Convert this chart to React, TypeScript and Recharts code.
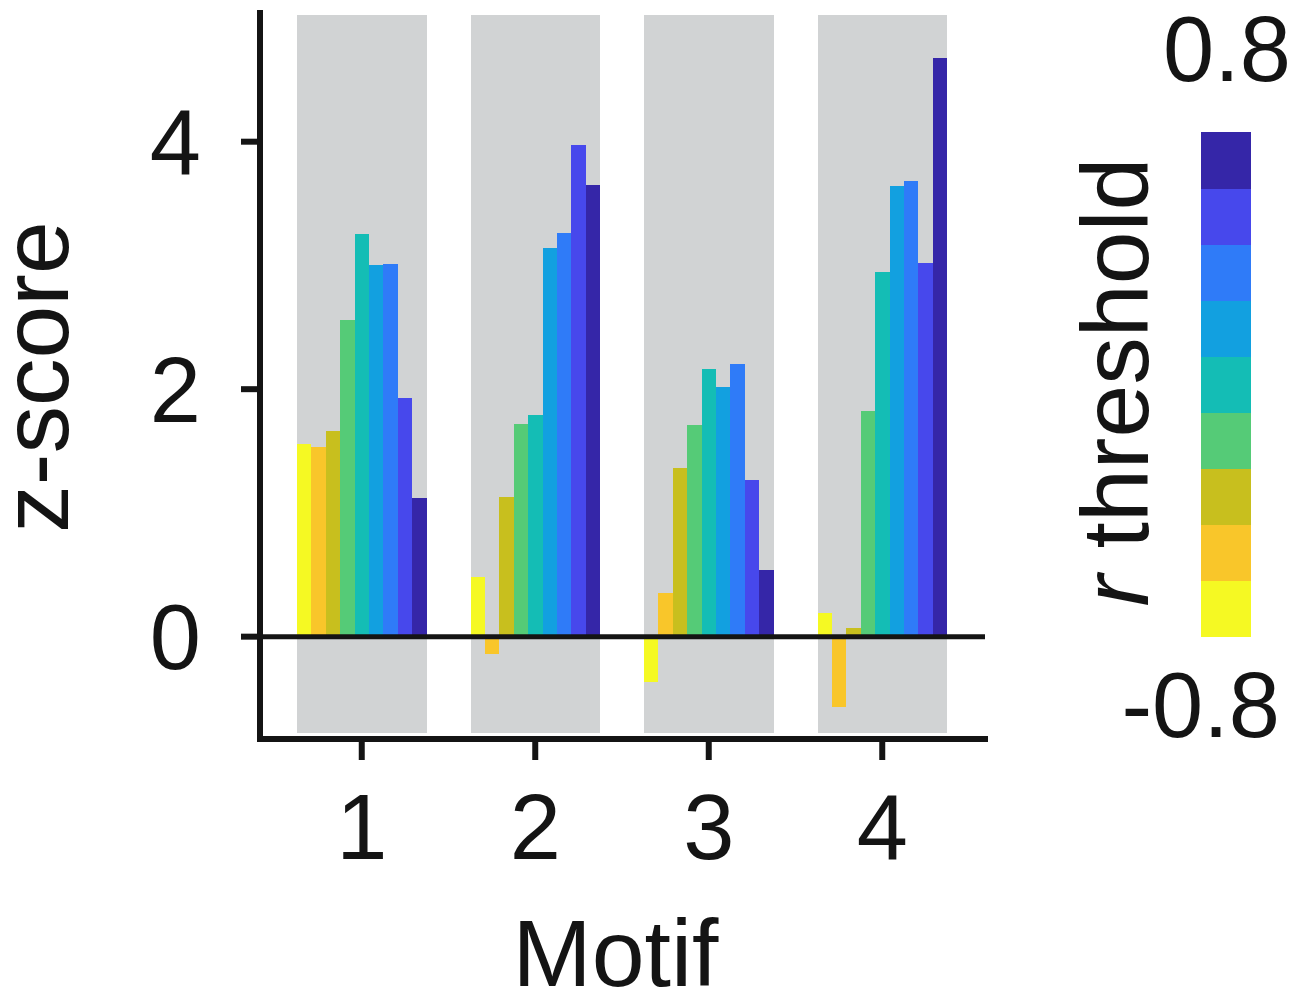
import React from "react";
import { BarChart, Bar, XAxis, YAxis, ReferenceLine, Legend, Label } from "recharts";

// Motif categories on the x axis
const motifs = ["1", "2", "3", "4"];

// r thresholds (colour bar levels, bottom to top) and their colours
const thresholds = [-0.8, -0.6, -0.4, -0.2, 0, 0.2, 0.4, 0.6, 0.8];
const thresholdColors = [
  "#F5F923",
  "#F9C62A",
  "#C8BF1E",
  "#55CB77",
  "#14BDB5",
  "#12A0E0",
  "#2F7BF8",
  "#4748EC",
  "#3526A8",
];

// z-score for motifs 1..4 at each r threshold
const zRm08 = [1.56, 0.48, -0.37, 0.19];
const zRm06 = [1.53, -0.14, 0.35, -0.57];
const zRm04 = [1.66, 1.13, 1.36, 0.07];
const zRm02 = [2.56, 1.72, 1.71, 1.82];
const zR00 = [3.25, 1.79, 2.16, 2.95];
const zR02 = [3.0, 3.14, 2.02, 3.64];
const zR04 = [3.01, 3.26, 2.2, 3.68];
const zR06 = [1.93, 3.97, 1.27, 3.02];
const zR08 = [1.12, 3.65, 0.54, 4.68];
const zScores = [zRm08, zRm06, zRm04, zRm02, zR00, zR02, zR04, zR06, zR08];

const yTicks = [0, 2, 4];

const Y_MIN = -0.827;
const Y_MAX = 5.04;
const BAND_TOP = 5.02;
const BAND_BOTTOM = -0.78;

const INK = "#141414";
const BAND = "#D1D3D4";
const FONT = "'Liberation Sans', Arial, Helvetica, sans-serif";

const data = motifs.map((m, i) => {
  const row: Record<string, string | number> = { motif: m };
  thresholds.forEach((_, j) => {
    row[`r${j}`] = zScores[j][i];
  });
  return row;
});

// grey band behind each motif group, built from each bar's own slot
function bandShape(p: any) {
  const span = Y_MAX - Y_MIN;
  const top = p.y + ((Y_MAX - BAND_TOP) / span) * p.height;
  const bottom = p.y + ((Y_MAX - BAND_BOTTOM) / span) * p.height;
  return (
    <rect
      x={p.x}
      y={top}
      width={p.width}
      height={bottom - top}
      fill={BAND}
      shapeRendering="crispEdges"
    />
  );
}

function barShape(p: any) {
  const y = Math.min(p.y, p.y + p.height);
  const h = Math.abs(p.height);
  return (
    <rect x={p.x} y={y} width={p.width} height={h} fill={p.fill} shapeRendering="crispEdges" />
  );
}

function ColorBar() {
  const n = thresholdColors.length;
  const segH = 504.4 / n;
  return (
    <svg width={228} height={760} style={{ display: "block", overflow: "visible" }}>
      {thresholdColors.map((c, j) => (
        <rect
          key={j}
          x={120.7}
          y={132.3 + (n - 1 - j) * segH}
          width={50}
          height={segH + 0.6}
          fill={c}
          shapeRendering="crispEdges"
        />
      ))}
      <text x={211} y={80.5} textAnchor="end" fontSize={92} fontFamily={FONT} fill={INK}>
        {thresholds[n - 1].toFixed(1)}
      </text>
      <text x={200} y={737} textAnchor="end" fontSize={92} fontFamily={FONT} fill={INK}>
        {thresholds[0].toFixed(1)}
      </text>
      <text
        transform="translate(68,382) rotate(-90)"
        textAnchor="middle"
        fontSize={95}
        fontFamily={FONT}
        fill={INK}
      >
        <tspan fontStyle="italic">r</tspan>
        <tspan> threshold</tspan>
      </text>
    </svg>
  );
}

export default function App() {
  return (
    <div style={{ position: "absolute", left: 0, top: 0, width: 1308, height: 993, background: "#fff" }}>
      <BarChart
        width={1308}
        height={993}
        data={data}
        margin={{ top: 13, right: 323, bottom: 0, left: 0 }}
        barGap={0}
        barSize={14.4}
      >
        <XAxis
          dataKey="motif"
          height={254}
          padding={{ left: 15, right: 16 }}
          interval={0}
          axisLine={{ stroke: INK, strokeWidth: 6, strokeLinecap: "square" }}
          tickLine={{ stroke: INK, strokeWidth: 6 }}
          tickSize={21}
          tickMargin={34}
          tick={{ fontSize: 92, fill: INK, fontFamily: FONT }}
        >
          <Label
            content={(props: any) => {
              const vb = props.viewBox || {};
              return (
                <text
                  x={vb.x + vb.width / 2 - 7}
                  y={986}
                  textAnchor="middle"
                  fontSize={95}
                  fontFamily={FONT}
                  fill={INK}
                >
                  Motif
                </text>
              );
            }}
          />
        </XAxis>
        <YAxis
          type="number"
          width={260}
          domain={[Y_MIN, Y_MAX]}
          ticks={yTicks}
          allowDataOverflow
          axisLine={{ stroke: INK, strokeWidth: 6, strokeLinecap: "square" }}
          tickLine={{ stroke: INK, strokeWidth: 6 }}
          tickSize={19}
          tickMargin={40}
          tick={{ fontSize: 92, fill: INK, fontFamily: FONT }}
        >
          <Label
            content={() => (
              <text
                transform="translate(68,377) rotate(-90)"
                textAnchor="middle"
                fontSize={95}
                fontFamily={FONT}
                fill={INK}
              >
                z-score
              </text>
            )}
          />
        </YAxis>
        {thresholds.map((t, j) => (
          <Bar
            key={t}
            dataKey={`r${j}`}
            name={`r = ${t}`}
            fill={thresholdColors[j]}
            background={bandShape}
            shape={barShape}
            isAnimationActive={false}
          />
        ))}
        <ReferenceLine y={0} stroke={INK} strokeWidth={5} />
        <Legend
          layout="horizontal"
          align="center"
          verticalAlign="middle"
          content={() => <ColorBar />}
          wrapperStyle={{ left: 1080, top: 0, width: 228, height: 760 }}
        />
      </BarChart>
    </div>
  );
}
